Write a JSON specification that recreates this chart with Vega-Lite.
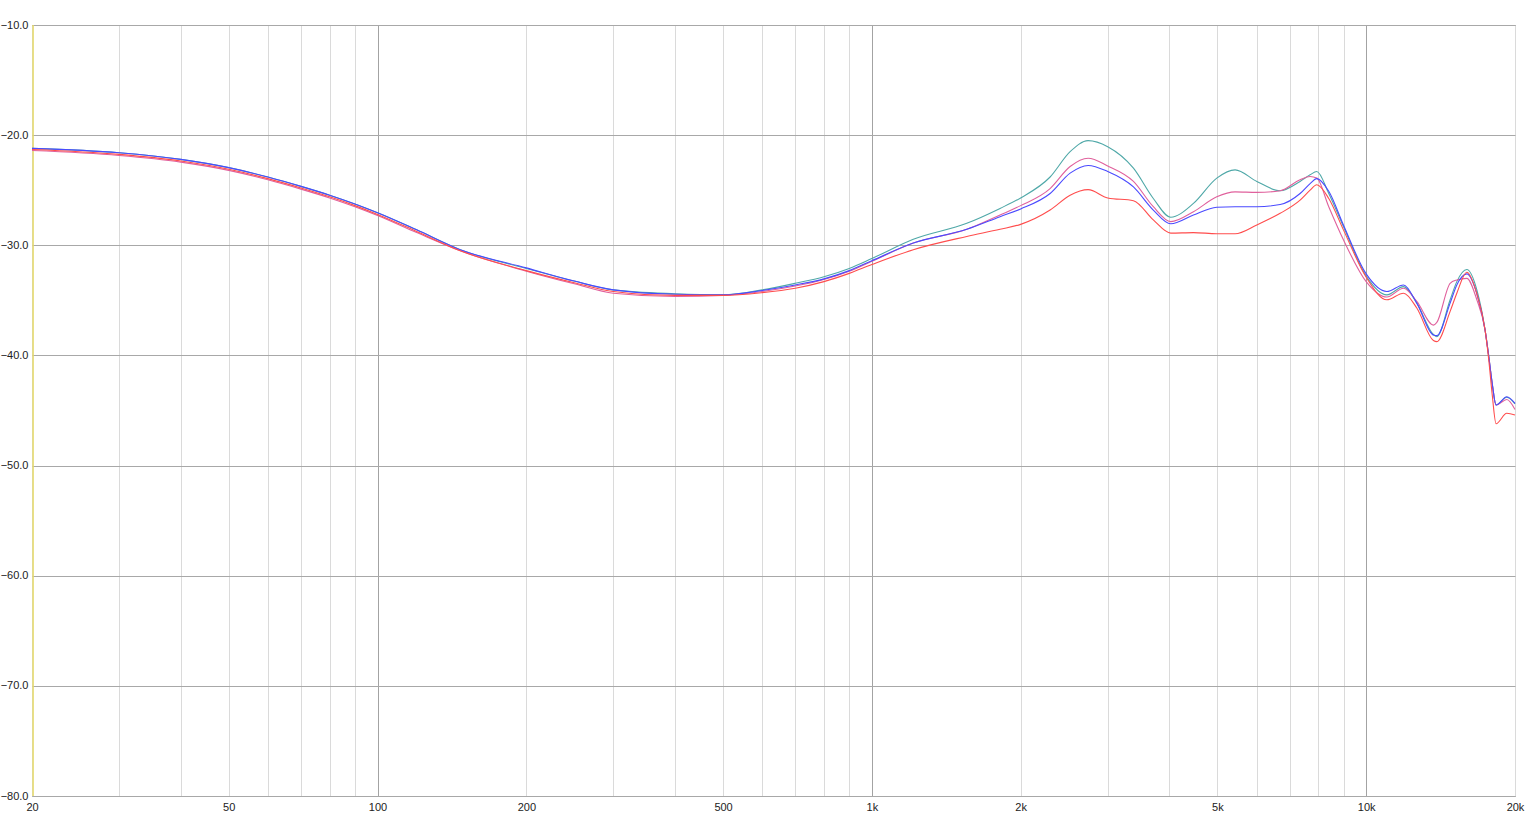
{
  "$schema": "https://vega.github.io/schema/vega-lite/v6.json",
  "width": 1483,
  "height": 771,
  "autosize": "none",
  "padding": {"left": 32, "top": 25, "right": 15, "bottom": 32},
  "background": "white",
  "config": {"view": {"stroke": "#7a7a7a", "strokeWidth": 1}, "font": "Liberation Sans"},
  "layer": [
    {
      "data": {"values": [{"f": 20.1}]},
      "mark": {"type": "rule", "color": "#e6da6a", "strokeWidth": 1.5},
      "encoding": {
        "x": {"field": "f", "type": "quantitative", "scale": {"type": "log", "domain": [20, 20000], "nice": false}}
      }
    },
    {
      "data": {"values": [
        {"f":20,"s":"teal","v":-21.2},{"f":30,"s":"teal","v":-21.6},{"f":40,"s":"teal","v":-22.2},{"f":50,"s":"teal","v":-22.95},{"f":60,"s":"teal","v":-23.8},{"f":70,"s":"teal","v":-24.65},{"f":80,"s":"teal","v":-25.45},{"f":90,"s":"teal","v":-26.25},{"f":100,"s":"teal","v":-27.05},
        {"f":120,"s":"teal","v":-28.6},{"f":147,"s":"teal","v":-30.4},{"f":200,"s":"teal","v":-32.1},{"f":250,"s":"teal","v":-33.25},{"f":300,"s":"teal","v":-34.05},{"f":400,"s":"teal","v":-34.4},{"f":500,"s":"teal","v":-34.5},{"f":600,"s":"teal","v":-34.05},{"f":700,"s":"teal","v":-33.45},{"f":800,"s":"teal","v":-32.85},{"f":900,"s":"teal","v":-32.1},{"f":1000,"s":"teal","v":-31.2},
        {"f":1213,"s":"teal","v":-29.45},{"f":1556,"s":"teal","v":-28.0},{"f":1817,"s":"teal","v":-26.65},{"f":2000,"s":"teal","v":-25.7},{"f":2294,"s":"teal","v":-23.8},{"f":2518,"s":"teal","v":-21.5},{"f":2738,"s":"teal","v":-20.5},{"f":3000,"s":"teal","v":-21.05},{"f":3382,"s":"teal","v":-23.0},{"f":3710,"s":"teal","v":-25.75},
        {"f":4024,"s":"teal","v":-27.45},{"f":4472,"s":"teal","v":-26.2},{"f":4986,"s":"teal","v":-23.9},{"f":5430,"s":"teal","v":-23.15},{"f":6008,"s":"teal","v":-24.2},{"f":6698,"s":"teal","v":-25.05},{"f":7350,"s":"teal","v":-24.2},{"f":7701,"s":"teal","v":-23.6},{"f":7944,"s":"teal","v":-23.3},{"f":8400,"s":"teal","v":-25.3},
        {"f":8994,"s":"teal","v":-28.3},{"f":10000,"s":"teal","v":-32.8},{"f":11008,"s":"teal","v":-34.5},{"f":11900,"s":"teal","v":-33.75},{"f":12658,"s":"teal","v":-35.25},{"f":13677,"s":"teal","v":-38.1},{"f":13896,"s":"teal","v":-38.3},{"f":14784,"s":"teal","v":-34.95},{"f":15252,"s":"teal","v":-33.3},{"f":15978,"s":"teal","v":-32.2},
        {"f":16744,"s":"teal","v":-34.05},{"f":17400,"s":"teal","v":-37.7},{"f":17700,"s":"teal","v":-40.1},{"f":17980,"s":"teal","v":-42.5},{"f":18312,"s":"teal","v":-44.5},{"f":19250,"s":"teal","v":-43.8},{"f":20000,"s":"teal","v":-44.4},

        {"f":20,"s":"pink","v":-21.4},{"f":30,"s":"pink","v":-21.85},{"f":40,"s":"pink","v":-22.45},{"f":50,"s":"pink","v":-23.2},{"f":60,"s":"pink","v":-24.05},{"f":70,"s":"pink","v":-24.9},{"f":80,"s":"pink","v":-25.7},{"f":90,"s":"pink","v":-26.5},{"f":100,"s":"pink","v":-27.3},
        {"f":120,"s":"pink","v":-28.85},{"f":147,"s":"pink","v":-30.5},{"f":200,"s":"pink","v":-32.35},{"f":250,"s":"pink","v":-33.5},{"f":300,"s":"pink","v":-34.35},{"f":400,"s":"pink","v":-34.65},{"f":500,"s":"pink","v":-34.55},{"f":600,"s":"pink","v":-34.2},{"f":700,"s":"pink","v":-33.7},{"f":800,"s":"pink","v":-33.1},{"f":900,"s":"pink","v":-32.35},{"f":1000,"s":"pink","v":-31.45},
        {"f":1213,"s":"pink","v":-29.8},{"f":1556,"s":"pink","v":-28.55},{"f":1817,"s":"pink","v":-27.25},{"f":2000,"s":"pink","v":-26.4},{"f":2294,"s":"pink","v":-24.85},{"f":2518,"s":"pink","v":-22.85},{"f":2738,"s":"pink","v":-22.1},{"f":3000,"s":"pink","v":-22.8},{"f":3382,"s":"pink","v":-24.2},{"f":3710,"s":"pink","v":-26.5},
        {"f":4024,"s":"pink","v":-27.85},{"f":4472,"s":"pink","v":-26.95},{"f":4986,"s":"pink","v":-25.6},{"f":5430,"s":"pink","v":-25.15},{"f":6008,"s":"pink","v":-25.2},{"f":6698,"s":"pink","v":-25.05},{"f":7350,"s":"pink","v":-24.05},{"f":7701,"s":"pink","v":-23.75},{"f":7944,"s":"pink","v":-23.9},{"f":8400,"s":"pink","v":-26.5},
        {"f":8994,"s":"pink","v":-29.5},{"f":10000,"s":"pink","v":-33.3},{"f":11008,"s":"pink","v":-34.7},{"f":11900,"s":"pink","v":-33.9},{"f":12658,"s":"pink","v":-35.1},{"f":13677,"s":"pink","v":-37.25},{"f":13896,"s":"pink","v":-37.0},{"f":14784,"s":"pink","v":-33.45},{"f":15252,"s":"pink","v":-33.15},{"f":15978,"s":"pink","v":-33.0},
        {"f":16744,"s":"pink","v":-34.95},{"f":17400,"s":"pink","v":-37.7},{"f":17700,"s":"pink","v":-40.1},{"f":17980,"s":"pink","v":-42.5},{"f":18312,"s":"pink","v":-44.5},{"f":19250,"s":"pink","v":-44.0},{"f":20000,"s":"pink","v":-44.9},

        {"f":20,"s":"blue","v":-21.2},{"f":30,"s":"blue","v":-21.6},{"f":40,"s":"blue","v":-22.2},{"f":50,"s":"blue","v":-22.95},{"f":60,"s":"blue","v":-23.8},{"f":70,"s":"blue","v":-24.65},{"f":80,"s":"blue","v":-25.45},{"f":90,"s":"blue","v":-26.25},{"f":100,"s":"blue","v":-27.05},
        {"f":120,"s":"blue","v":-28.6},{"f":147,"s":"blue","v":-30.4},{"f":200,"s":"blue","v":-32.05},{"f":250,"s":"blue","v":-33.25},{"f":300,"s":"blue","v":-34.05},{"f":400,"s":"blue","v":-34.45},{"f":500,"s":"blue","v":-34.5},{"f":600,"s":"blue","v":-34.1},{"f":700,"s":"blue","v":-33.6},{"f":800,"s":"blue","v":-33.05},{"f":900,"s":"blue","v":-32.3},{"f":1000,"s":"blue","v":-31.4},
        {"f":1213,"s":"blue","v":-29.8},{"f":1556,"s":"blue","v":-28.55},{"f":1817,"s":"blue","v":-27.4},{"f":2000,"s":"blue","v":-26.7},{"f":2294,"s":"blue","v":-25.3},{"f":2518,"s":"blue","v":-23.45},{"f":2738,"s":"blue","v":-22.75},{"f":3000,"s":"blue","v":-23.3},{"f":3382,"s":"blue","v":-24.7},{"f":3710,"s":"blue","v":-26.8},
        {"f":4024,"s":"blue","v":-28.05},{"f":4472,"s":"blue","v":-27.25},{"f":4986,"s":"blue","v":-26.55},{"f":5430,"s":"blue","v":-26.5},{"f":6008,"s":"blue","v":-26.5},{"f":6698,"s":"blue","v":-26.3},{"f":7350,"s":"blue","v":-25.3},{"f":7701,"s":"blue","v":-24.4},{"f":7944,"s":"blue","v":-23.95},{"f":8400,"s":"blue","v":-25.1},
        {"f":8994,"s":"blue","v":-28.15},{"f":10000,"s":"blue","v":-32.6},{"f":11008,"s":"blue","v":-34.2},{"f":11900,"s":"blue","v":-33.6},{"f":12658,"s":"blue","v":-35.25},{"f":13677,"s":"blue","v":-38.15},{"f":13896,"s":"blue","v":-38.2},{"f":14784,"s":"blue","v":-35.25},{"f":15252,"s":"blue","v":-33.6},{"f":15978,"s":"blue","v":-32.6},
        {"f":16744,"s":"blue","v":-34.4},{"f":17400,"s":"blue","v":-37.7},{"f":17700,"s":"blue","v":-40.1},{"f":17980,"s":"blue","v":-42.5},{"f":18312,"s":"blue","v":-44.5},{"f":19250,"s":"blue","v":-43.75},{"f":20000,"s":"blue","v":-44.35},

        {"f":20,"s":"red","v":-21.3},{"f":30,"s":"red","v":-21.75},{"f":40,"s":"red","v":-22.35},{"f":50,"s":"red","v":-23.1},{"f":60,"s":"red","v":-23.95},{"f":70,"s":"red","v":-24.8},{"f":80,"s":"red","v":-25.6},{"f":90,"s":"red","v":-26.4},{"f":100,"s":"red","v":-27.2},
        {"f":120,"s":"red","v":-28.75},{"f":147,"s":"red","v":-30.5},{"f":200,"s":"red","v":-32.3},{"f":250,"s":"red","v":-33.4},{"f":300,"s":"red","v":-34.2},{"f":400,"s":"red","v":-34.55},{"f":500,"s":"red","v":-34.55},{"f":600,"s":"red","v":-34.3},{"f":700,"s":"red","v":-33.9},{"f":800,"s":"red","v":-33.3},{"f":900,"s":"red","v":-32.55},{"f":1000,"s":"red","v":-31.75},
        {"f":1213,"s":"red","v":-30.4},{"f":1556,"s":"red","v":-29.2},{"f":1817,"s":"red","v":-28.55},{"f":2000,"s":"red","v":-28.1},{"f":2294,"s":"red","v":-26.8},{"f":2518,"s":"red","v":-25.45},{"f":2738,"s":"red","v":-24.95},{"f":3000,"s":"red","v":-25.7},{"f":3382,"s":"red","v":-25.95},{"f":3710,"s":"red","v":-27.7},
        {"f":4024,"s":"red","v":-28.9},{"f":4472,"s":"red","v":-28.85},{"f":4986,"s":"red","v":-28.95},{"f":5430,"s":"red","v":-28.95},{"f":6008,"s":"red","v":-28.15},{"f":6698,"s":"red","v":-27.1},{"f":7350,"s":"red","v":-25.9},{"f":7701,"s":"red","v":-25.0},{"f":7944,"s":"red","v":-24.5},{"f":8400,"s":"red","v":-25.75},
        {"f":8994,"s":"red","v":-28.6},{"f":10000,"s":"red","v":-32.9},{"f":11008,"s":"red","v":-34.95},{"f":11900,"s":"red","v":-34.35},{"f":12658,"s":"red","v":-35.7},{"f":13677,"s":"red","v":-38.65},{"f":13896,"s":"red","v":-38.75},{"f":14784,"s":"red","v":-36.0},{"f":15252,"s":"red","v":-34.35},{"f":15978,"s":"red","v":-32.45},
        {"f":16744,"s":"red","v":-34.4},{"f":17400,"s":"red","v":-37.7},{"f":17700,"s":"red","v":-40.4},{"f":17980,"s":"red","v":-43.5},{"f":18312,"s":"red","v":-46.2},{"f":19250,"s":"red","v":-45.25},{"f":20000,"s":"red","v":-45.4}
      ]},
      "mark": {"type": "line", "strokeWidth": 1.1, "interpolate": "monotone"},
      "encoding": {
        "x": {
          "field": "f", "type": "quantitative",
          "scale": {"type": "log", "domain": [20, 20000], "nice": false},
          "axis": {
            "title": null,
            "values": [20,30,40,50,60,70,80,90,100,200,300,400,500,600,700,800,900,1000,2000,3000,4000,5000,6000,7000,8000,9000,10000,20000],
            "grid": true,
            "gridColor": {"condition": {"test": "datum.value==100||datum.value==1000||datum.value==10000", "value": "#a3a3a3"}, "value": "#dadada"},
            "ticks": false,
            "domain": false,
            "labelExpr": "indexof([20,50,100,200,500,1000,2000,5000,10000,20000], datum.value) >= 0 ? (datum.value >= 1000 ? (datum.value/1000) + 'k' : '' + datum.value) : ''",
            "labelOverlap": false,
            "labelFlush": false,
            "labelFontSize": 11,
            "labelColor": "#222222",
            "labelPadding": 5
          }
        },
        "y": {
          "field": "v", "type": "quantitative",
          "scale": {"domain": [-80, -10], "nice": false, "zero": false},
          "axis": {
            "title": null,
            "values": [-80,-70,-60,-50,-40,-30,-20,-10],
            "format": ".1f",
            "grid": true,
            "gridColor": "#a8a8a8",
            "ticks": false,
            "domain": false,
            "labelFlush": false,
            "labelFontSize": 11,
            "labelColor": "#222222",
            "labelPadding": 4
          }
        },
        "color": {
          "field": "s", "type": "nominal",
          "scale": {"domain": ["teal","pink","blue","red"], "range": ["#4fa8a8","#e0609c","#4a4aff","#ff4d4d"]},
          "legend": null
        }
      }
    }
  ]
}
